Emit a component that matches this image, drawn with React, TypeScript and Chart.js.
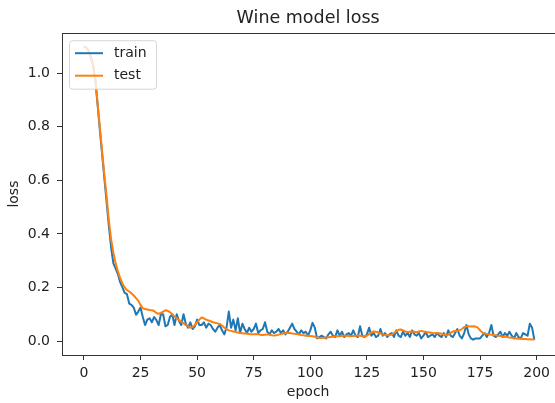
import React, { useEffect, useRef } from "react";
import { Chart, registerables } from "chart.js";

Chart.register(...registerables);

const chartTitle = "Wine model loss";
const xLabel = "epoch";
const yLabel = "loss";
const seriesNames = ["train", "test"];
const seriesColors = ["#1f77b4", "#ff7f0e"];

const epochs = Array.from({ length: 200 }, (_, i) => i);

const trainLoss = [
  1.10, 1.095, 1.085, 1.06, 1.03, 0.975, 0.885, 0.79, 0.70, 0.61,
  0.52, 0.43, 0.35, 0.29, 0.27, 0.25, 0.22, 0.20, 0.18, 0.175,
  0.14, 0.135, 0.125, 0.098, 0.11, 0.125, 0.09, 0.06, 0.08, 0.085,
  0.07, 0.09, 0.078, 0.06, 0.10, 0.10, 0.055, 0.06, 0.09, 0.10,
  0.06, 0.10, 0.075, 0.06, 0.10, 0.065, 0.05, 0.07, 0.045, 0.055,
  0.08, 0.06, 0.06, 0.07, 0.05, 0.065, 0.06, 0.045, 0.035, 0.05,
  0.06, 0.04, 0.025, 0.05, 0.11, 0.05, 0.08, 0.04, 0.085, 0.03,
  0.065, 0.045, 0.03, 0.05, 0.035, 0.045, 0.065, 0.03, 0.04, 0.045,
  0.07, 0.035, 0.025, 0.04, 0.03, 0.035, 0.045, 0.03, 0.04, 0.025,
  0.035, 0.05, 0.065, 0.045, 0.035, 0.025, 0.04, 0.03, 0.035, 0.02,
  0.04, 0.068, 0.05, 0.01, 0.015, 0.02, 0.015, 0.01, 0.025, 0.035,
  0.02, 0.015, 0.04, 0.02, 0.035, 0.015, 0.025, 0.03, 0.02, 0.04,
  0.02, 0.015, 0.055, 0.02, 0.015, 0.025, 0.05, 0.02, 0.03, 0.015,
  0.02, 0.045, 0.02, 0.03, 0.015, 0.025, 0.03, 0.015, 0.04, 0.02,
  0.015, 0.035, 0.02, 0.03, 0.015, 0.04, 0.025, 0.02, 0.03, 0.01,
  0.02, 0.035, 0.015, 0.02, 0.025, 0.015, 0.03, 0.02, 0.015, 0.03,
  0.015, 0.04, 0.02, 0.015, 0.03, 0.045, 0.02, 0.01, 0.03, 0.06,
  0.025, 0.01, 0.005, 0.01, 0.01, 0.01, 0.02, 0.03, 0.015, 0.03,
  0.06, 0.02, 0.015, 0.025, 0.035, 0.015, 0.03, 0.02, 0.035, 0.02,
  0.01, 0.03, 0.015, 0.01, 0.03, 0.025, 0.02, 0.065, 0.05, 0.005,
];

const testLoss = [
  1.10, 1.095, 1.085, 1.06, 1.03, 0.98, 0.89, 0.80, 0.71, 0.62,
  0.54, 0.45, 0.38, 0.33, 0.29, 0.26, 0.235, 0.215, 0.20, 0.19,
  0.185, 0.178, 0.17, 0.16, 0.15, 0.135, 0.122, 0.12, 0.118, 0.116,
  0.115, 0.112, 0.105, 0.102, 0.105, 0.11, 0.115, 0.113, 0.108, 0.10,
  0.092, 0.085, 0.078, 0.072, 0.066, 0.06, 0.055, 0.05, 0.052, 0.06,
  0.07, 0.08, 0.088, 0.085, 0.08, 0.077, 0.074, 0.07, 0.068, 0.066,
  0.064, 0.058, 0.05, 0.045, 0.04, 0.038, 0.036, 0.034, 0.032, 0.03,
  0.029, 0.028, 0.027, 0.026, 0.025, 0.025, 0.026, 0.025, 0.024, 0.023,
  0.024, 0.025, 0.024, 0.022, 0.021, 0.022, 0.024, 0.026, 0.028, 0.03,
  0.031, 0.03, 0.028, 0.027, 0.026, 0.025, 0.023, 0.022, 0.02, 0.02,
  0.019, 0.018, 0.016, 0.013, 0.011, 0.011, 0.012, 0.013, 0.014, 0.015,
  0.016, 0.017, 0.018, 0.018, 0.019, 0.02, 0.02, 0.019, 0.018, 0.019,
  0.02, 0.021, 0.02, 0.018, 0.017, 0.02, 0.026, 0.032, 0.036, 0.035,
  0.032, 0.028, 0.025, 0.023, 0.022, 0.022, 0.024, 0.03, 0.037, 0.042,
  0.043, 0.04, 0.036, 0.034, 0.035, 0.036, 0.035, 0.033, 0.036, 0.038,
  0.036, 0.034, 0.033, 0.032, 0.03, 0.029, 0.03, 0.029, 0.027, 0.025,
  0.022, 0.024, 0.03, 0.036, 0.038, 0.038, 0.04, 0.045, 0.052, 0.055,
  0.055, 0.054, 0.055, 0.054, 0.05, 0.04, 0.032, 0.028, 0.026, 0.025,
  0.024, 0.023, 0.022, 0.02, 0.019, 0.017, 0.016, 0.015, 0.013, 0.012,
  0.011, 0.01, 0.009, 0.009, 0.008, 0.008, 0.007, 0.007, 0.006, 0.006,
];

const xTicks = [0, 25, 50, 75, 100, 125, 150, 175, 200];
const yTicks = [0, 0.2, 0.4, 0.6, 0.8, 1.0];

const FONT = "'DejaVu Sans', 'Liberation Sans', sans-serif";
const TEXT = "#222222";
const SPINE = "#333333";

const framePlugin = {
  id: "frame",
  afterDatasetsDraw(chart: any) {
    const { ctx, chartArea } = chart;
    ctx.save();
    ctx.strokeStyle = SPINE;
    ctx.lineWidth = 1;
    ctx.strokeRect(
      Math.round(chartArea.left) + 0.5,
      Math.round(chartArea.top) + 0.5,
      Math.round(chartArea.right - chartArea.left) + 2,
      Math.round(chartArea.bottom - chartArea.top)
    );
    ctx.restore();
  },
};

const innerLegendPlugin = {
  id: "innerLegend",
  afterDatasetsDraw(chart: any) {
    const { ctx, chartArea } = chart;
    const x0 = chartArea.left + 7.5;
    const y0 = chartArea.top + 7.5;
    const w = 87;
    const h = 48.5;
    ctx.save();
    ctx.beginPath();
    ctx.roundRect(x0, y0, w, h, 3);
    ctx.fillStyle = "rgba(255,255,255,0.8)";
    ctx.fill();
    ctx.strokeStyle = "rgba(204,204,204,0.8)";
    ctx.lineWidth = 1;
    ctx.stroke();
    const order = [0, 1];
    order.forEach((i, row) => {
      const ds = chart.data.datasets[i];
      const y = y0 + 12.5 + row * 22.5;
      ctx.beginPath();
      ctx.moveTo(x0 + 5.5, y);
      ctx.lineTo(x0 + 33.5, y);
      ctx.strokeStyle = ds.borderColor;
      ctx.lineWidth = 2;
      ctx.lineCap = "butt";
      ctx.stroke();
      ctx.fillStyle = TEXT;
      ctx.font = `14px ${FONT}`;
      ctx.textAlign = "left";
      ctx.textBaseline = "middle";
      ctx.fillText(ds.label, x0 + 44.5, y);
    });
    ctx.restore();
  },
};

export default function App() {
  const canvasRef = useRef<HTMLCanvasElement | null>(null);

  useEffect(() => {
    document.body.style.margin = "0";
    const canvas = canvasRef.current;
    if (!canvas) return;
    const chart = new Chart(canvas, {
      type: "line",
      data: {
        datasets: [
          {
            label: seriesNames[0],
            data: epochs.map((e, i) => ({ x: e, y: trainLoss[i] })),
            borderColor: seriesColors[0],
            backgroundColor: seriesColors[0],
            borderWidth: 2,
            pointRadius: 0,
            tension: 0,
            borderJoinStyle: "round",
            order: 1,
          },
          {
            label: seriesNames[1],
            data: epochs.map((e, i) => ({ x: e, y: testLoss[i] })),
            borderColor: seriesColors[1],
            backgroundColor: seriesColors[1],
            borderWidth: 2,
            pointRadius: 0,
            tension: 0,
            borderJoinStyle: "round",
            order: 0,
          },
        ],
      },
      options: {
        responsive: false,
        animation: false,
        devicePixelRatio: 1,
        layout: { padding: 0 },
        plugins: {
          legend: { display: false },
          tooltip: { enabled: false },
          title: {
            display: true,
            text: chartTitle,
            fullSize: false,
            color: TEXT,
            font: { family: FONT, size: 17.5, weight: "normal" },
            padding: { top: 8, bottom: 4.2 },
          },
        },
        scales: {
          x: {
            type: "linear",
            min: -9.7,
            max: 207.8,
            afterBuildTicks: (scale: any) => {
              scale.ticks = xTicks.map((v) => ({ value: v }));
            },
            afterFit: (scale: any) => {
              scale.height = 48;
            },
            ticks: {
              color: TEXT,
              font: { family: FONT, size: 14 },
              padding: 5,
              maxRotation: 0,
              autoSkip: false,
              callback: (v: any) => String(v),
            },
            grid: {
              display: true,
              drawOnChartArea: false,
              drawTicks: true,
              tickLength: 5,
              tickColor: SPINE,
              tickWidth: 1,
            },
            border: { display: true, color: SPINE, width: 1 },
            title: {
              display: true,
              text: xLabel,
              color: TEXT,
              font: { family: FONT, size: 14 },
              padding: { top: 0, bottom: 2 },
            },
          },
          y: {
            type: "linear",
            min: -0.052,
            max: 1.149,
            afterBuildTicks: (scale: any) => {
              scale.ticks = yTicks.map((v) => ({ value: v }));
            },
            afterFit: (scale: any) => {
              scale.width = 62;
            },
            ticks: {
              color: TEXT,
              font: { family: FONT, size: 14 },
              padding: 7,
              autoSkip: false,
              callback: (v: any) => Number(v).toFixed(1),
            },
            grid: {
              display: true,
              drawOnChartArea: false,
              drawTicks: true,
              tickLength: 5,
              tickColor: SPINE,
              tickWidth: 1,
            },
            border: { display: true, color: SPINE, width: 1 },
            title: {
              display: true,
              text: yLabel,
              color: TEXT,
              font: { family: FONT, size: 14 },
              padding: { top: 6, bottom: 0 },
            },
          },
        },
      },
      plugins: [framePlugin, innerLegendPlugin],
    });
    return () => chart.destroy();
  }, []);

  return (
    <div style={{ position: "fixed", left: 0, top: 0, width: 555, height: 403, background: "#fff", overflow: "hidden" }}>
      <canvas ref={canvasRef} width={555} height={403} style={{ display: "block", width: 555, height: 403 }} />
    </div>
  );
}
